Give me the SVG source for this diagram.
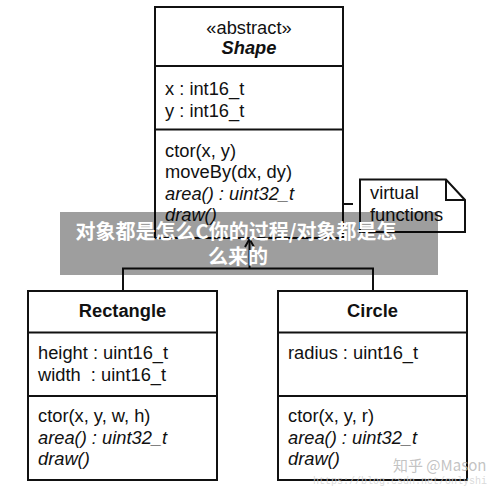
<svg xmlns="http://www.w3.org/2000/svg" width="500" height="489" viewBox="0 0 500 489">
<style>
.box{fill:#fff;stroke:#111;stroke-width:2}
.ln{fill:none;stroke:#111;stroke-width:2}
.t{font-family:"Liberation Sans",Arial,sans-serif;font-size:18.3px;fill:#111;white-space:pre}
.i{font-style:italic}
.b{font-weight:bold}
.c{text-anchor:middle}
.ban{font-family:"Noto Sans CJK SC","Noto Sans",sans-serif;font-size:20px;font-weight:bold;fill:#fff;text-anchor:middle}
</style>
<rect width="500" height="489" fill="#fff"/>
<g id="connectors">
  <polyline class="ln" points="123,291 123,268.5 373,268.5 373,291"/>
  <line class="ln" x1="249.5" y1="268.5" x2="249.5" y2="239"/>
  <polyline class="ln" points="245,247 249.5,239 254,247"/>
  <polyline class="ln" points="302,182 313.5,187 313.5,200.5"/>
  <polyline class="ln" points="313.5,207.5 313.5,231 302,236"/>
  <circle cx="313.5" cy="204" r="3.5" fill="#fff" stroke="#111" stroke-width="2"/>
  <line class="ln" x1="317" y1="204" x2="360" y2="204" stroke-dasharray="12,9" stroke-dashoffset="-3"/>
</g>
<g id="shape">
  <rect class="box" x="155" y="7" width="188" height="231"/>
  <line class="ln" x1="155" y1="66" x2="343" y2="66"/>
  <line class="ln" x1="155" y1="129.5" x2="343" y2="129.5"/>
  <text class="t c" x="249" y="33.5">«abstract»</text>
  <text class="t c b i" x="249" y="53.5">Shape</text>
  <text class="t" x="165" y="94.5">x : int16_t</text>
  <text class="t" x="165" y="116.5">y : int16_t</text>
  <text class="t" x="165" y="156.5">ctor(x, y)</text>
  <text class="t" x="165" y="178">moveBy(dx, dy)</text>
  <text class="t i" x="165" y="199.5">area() : uint32_t</text>
  <text class="t i" x="165" y="221">draw()</text>
</g>
<g id="note">
  <path class="box" d="M360,179.5 H446 L465,200 V232 H360 Z"/>
  <polyline class="ln" points="446,179.5 446,200 465,200"/>
  <text class="t" x="370" y="198.5">virtual</text>
  <text class="t" x="370" y="221">functions</text>
</g>
<g id="rectangle">
  <rect class="box" x="28" y="291" width="189" height="189"/>
  <line class="ln" x1="28" y1="332.5" x2="217" y2="332.5"/>
  <line class="ln" x1="28" y1="396" x2="217" y2="396"/>
  <text class="t c b" x="122.5" y="317">Rectangle</text>
  <text class="t" x="38" y="358.5">height : uint16_t</text>
  <text class="t" x="38" y="381">width  : uint16_t</text>
  <text class="t" x="38" y="421.5">ctor(x, y, w, h)</text>
  <text class="t i" x="38" y="443.5">area() : uint32_t</text>
  <text class="t i" x="38" y="465">draw()</text>
</g>
<g id="circle">
  <rect class="box" x="278" y="291" width="189" height="189"/>
  <line class="ln" x1="278" y1="332.5" x2="467" y2="332.5"/>
  <line class="ln" x1="278" y1="396" x2="467" y2="396"/>
  <text class="t c b" x="372.5" y="317">Circle</text>
  <text class="t" x="288" y="358.5">radius : uint16_t</text>
  <text class="t" x="288" y="421.5">ctor(x, y, r)</text>
  <text class="t i" x="288" y="443.5">area() : uint32_t</text>
  <text class="t i" x="288" y="465">draw()</text>
</g>
<g id="banner">
  <rect x="60" y="212" width="378" height="63" fill="#000" fill-opacity="0.38"/>
  <text class="ban" x="236" y="239">对象都是怎么C你的过程/对象都是怎</text>
  <text class="ban" x="238" y="264">么来的</text>
</g>
<g id="watermark">
  <text x="393" y="471" font-family="'Noto Sans CJK SC','Liberation Sans',sans-serif" font-size="15" fill="#b8b8b8" fill-opacity="0.85">知乎 @Mason</text>
  <text x="313" y="484" font-family="'Liberation Mono',monospace" font-size="10" fill="#d0d0d0" fill-opacity="0.8">https://blog.csdn.net/onlyshi</text>
</g>
</svg>
